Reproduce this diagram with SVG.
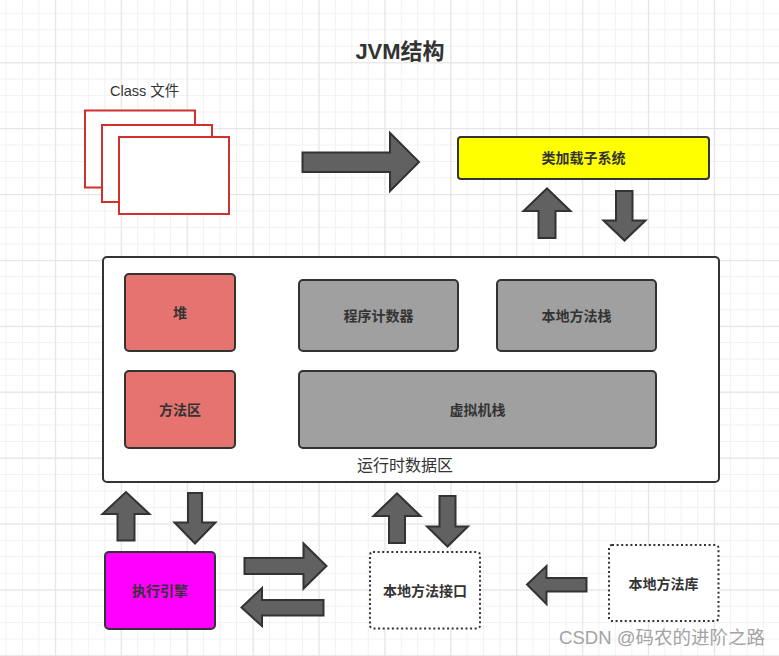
<svg xmlns="http://www.w3.org/2000/svg" width="779" height="656" viewBox="0 0 779 656">
<style>
  .t { font-family: "Liberation Sans", "Noto Sans CJK SC", sans-serif; fill: #333; }
  .lbl { font-size: 14px; font-weight: 600; text-anchor: middle; dominant-baseline: central; }
  .box { stroke: #333; stroke-width: 2; }
  .cls { fill: #fff; stroke: #d32f2f; stroke-width: 2; }
  .arr { fill: #616161; stroke: #333; stroke-width: 2; stroke-linejoin: miter; }
  .dot { fill: #fff; stroke: #333; stroke-width: 2; stroke-dasharray: 2 2.6; }
</style>
<defs>
  <pattern id="minor" x="-11" y="-3.7" width="16.47" height="16.47" patternUnits="userSpaceOnUse">
    <rect x="0" y="0" width="16.47" height="1" fill="#f1f1f1"/>
    <rect x="0" y="0" width="1" height="16.47" fill="#f1f1f1"/>
  </pattern>
  <pattern id="major" x="-11" y="-3.7" width="65.9" height="65.9" patternUnits="userSpaceOnUse">
    <rect x="0" y="0" width="65.9" height="1.2" fill="#e6e6e6"/>
    <rect x="0" y="0" width="1.2" height="65.9" fill="#e6e6e6"/>
  </pattern>
</defs>
<rect width="779" height="656" fill="#fff"/>
<rect width="779" height="656" fill="url(#minor)"/>
<rect width="779" height="656" fill="url(#major)"/>

<text class="t" x="400" y="59" font-size="22" font-weight="700" text-anchor="middle">JVM结构</text>

<g id="class-files">
  <text class="t" x="110" y="95.5" font-size="14.5">Class 文件</text>
  <rect class="cls" x="85" y="110.5" width="110" height="77"/>
  <rect class="cls" x="102" y="125" width="110" height="77"/>
  <rect class="cls" x="119" y="137" width="110" height="77"/>
</g>

<g id="classloader">
  <rect class="box" x="458" y="137" width="251" height="42" rx="3" fill="#ffff00"/>
  <text class="t lbl" x="583.5" y="158">类加载子系统</text>
</g>

<g id="runtime-data-area">
  <rect class="box" x="103" y="257" width="616" height="225" rx="4" fill="#fff"/>
  <text class="t" x="405" y="471" font-size="16" text-anchor="middle">运行时数据区</text>
</g>
<g id="heap">
  <rect class="box" x="125" y="274" width="110" height="77" rx="4" fill="#e57471"/>
  <text class="t lbl" x="180" y="312.5">堆</text>
</g>
<g id="method-area">
  <rect class="box" x="125" y="371" width="110" height="77" rx="4" fill="#e57471"/>
  <text class="t lbl" x="180" y="409.5">方法区</text>
</g>
<g id="pc-register">
  <rect class="box" x="299" y="280" width="159" height="71" rx="4" fill="#a0a0a0"/>
  <text class="t lbl" x="378.5" y="315.5">程序计数器</text>
</g>
<g id="native-method-stack">
  <rect class="box" x="497" y="280" width="159" height="71" rx="4" fill="#a0a0a0"/>
  <text class="t lbl" x="576.5" y="315.5">本地方法栈</text>
</g>
<g id="vm-stack">
  <rect class="box" x="299" y="371" width="357" height="77" rx="4" fill="#a0a0a0"/>
  <text class="t lbl" x="477.5" y="409.5">虚拟机栈</text>
</g>

<g id="execution-engine">
  <rect class="box" x="105" y="552" width="110" height="77" rx="4" fill="#ff00ff"/>
  <text class="t lbl" x="160" y="590.5">执行引擎</text>
</g>
<g id="native-interface">
  <rect class="dot" x="370" y="552" width="110" height="76.5" rx="3"/>
  <text class="t lbl" x="425" y="590.5">本地方法接口</text>
</g>
<g id="native-library">
  <rect class="dot" x="609" y="545" width="109.5" height="76" rx="3"/>
  <text class="t lbl" x="663.5" y="583.5">本地方法库</text>
</g>

<g id="connectors">
  <polygon class="arr" points="302.5,152.5 390,152.5 390,133 419,162 390,191 390,172 302.5,172"/>
  <polygon class="arr" points="538.5,238 538.5,211 523.5,211 547,188.5 570.5,211 555.5,211 555.5,238"/>
  <polygon class="arr" points="616,191 632.5,191 632.5,220.5 645.5,220.5 624.5,240.5 603.5,220.5 616,220.5"/>
  <polygon class="arr" points="117.5,540.5 117.5,514 102.5,514 126,492 149.5,514 134.5,514 134.5,540.5"/>
  <polygon class="arr" points="188,493 202,493 202,522.5 215.5,522.5 195,543.5 174.5,522.5 188,522.5"/>
  <polygon class="arr" points="244.5,558 303.5,558 303.5,543.5 326.5,566 303.5,588.5 303.5,574 244.5,574"/>
  <polygon class="arr" points="323.5,600 262,600 262,588 241.5,607.5 262,626 262,615.5 323.5,615.5"/>
  <polygon class="arr" points="389,543 389,516 373.5,516 397,493.5 420.5,516 405,516 405,543"/>
  <polygon class="arr" points="439.5,496 455.5,496 455.5,526.5 468,526.5 447.5,546.5 427,526.5 439.5,526.5"/>
  <polygon class="arr" points="586.5,578 546.5,578 546.5,566 527,584.5 546.5,604 546.5,591.5 586.5,591.5"/>
</g>

<text x="662" y="643.5" font-family="Liberation Sans, Noto Sans CJK SC, sans-serif" font-size="18.5" fill="#a3a3a3" text-anchor="middle">CSDN @码农的进阶之路</text>
</svg>
